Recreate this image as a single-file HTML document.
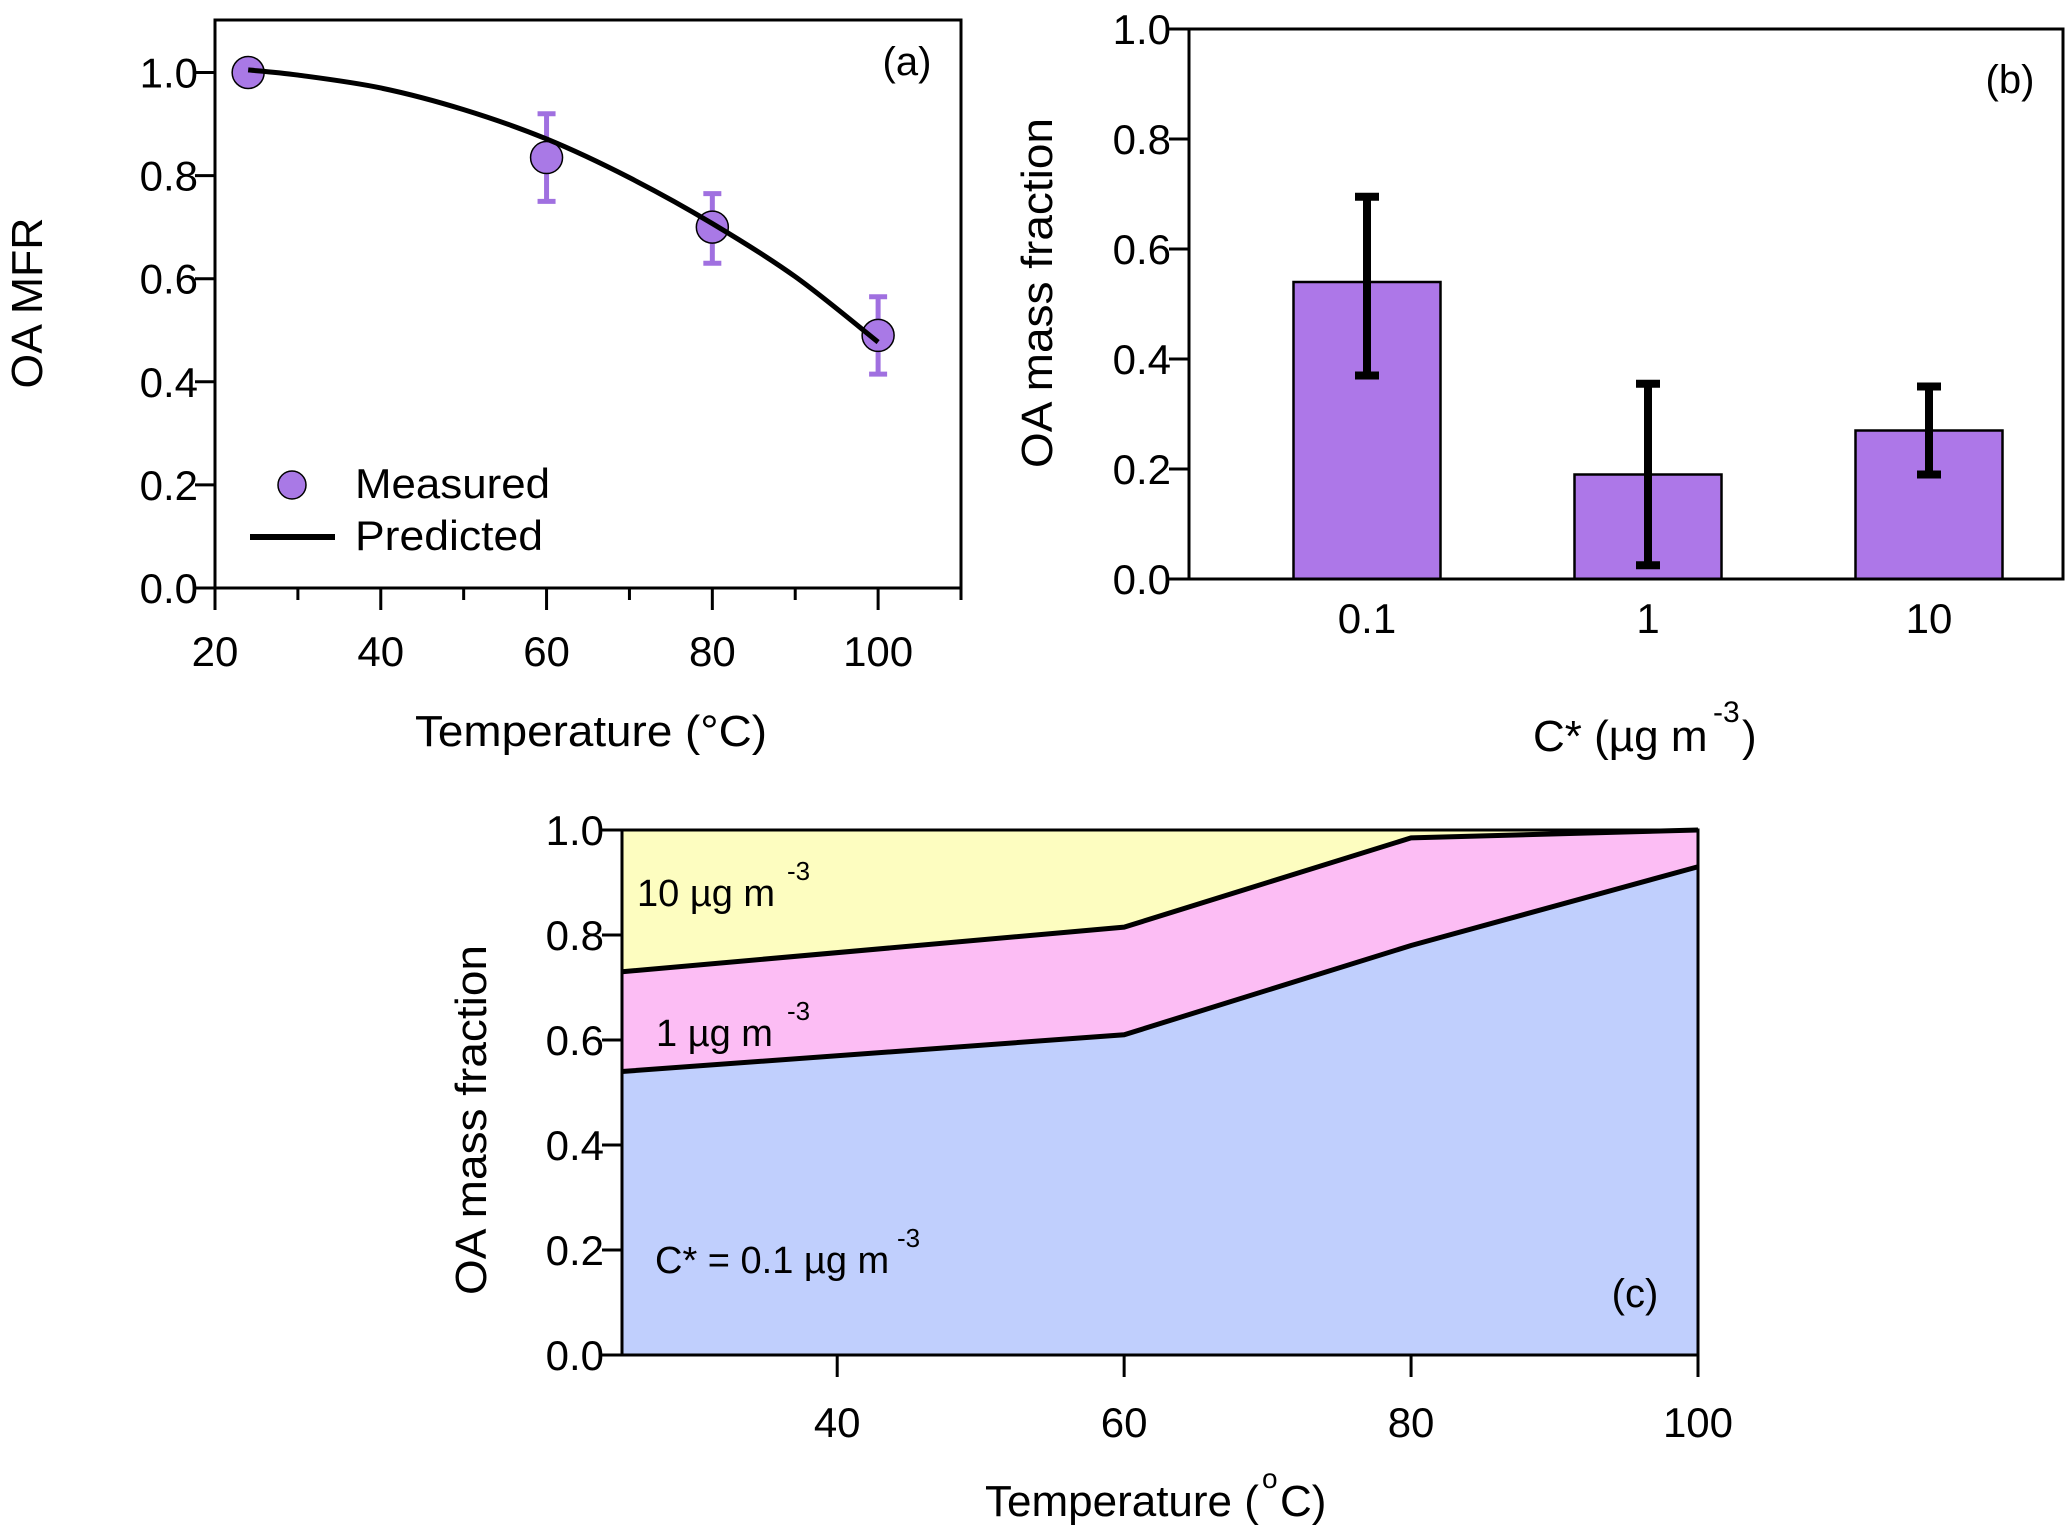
<!DOCTYPE html>
<html><head><meta charset="utf-8"><style>
html,body{margin:0;padding:0;background:#fff}
svg{display:block}
text{font-family:"Liberation Sans",Arial,sans-serif;fill:#000}
</style></head><body>
<svg id="fig" width="2067" height="1539" viewBox="0 0 2067 1539" xmlns="http://www.w3.org/2000/svg">
<g id="pa"></g>
<g id="pb"></g>
<g id="pc"></g>
</svg>
<script>
// Panel (a) data
const aTemps = [24, 60, 80, 100];
const aMeasured = [1.0, 0.835, 0.70, 0.49];
const aErrLow = [1.0, 0.75, 0.63, 0.415];
const aErrHigh = [1.0, 0.92, 0.765, 0.565];
const aCurveT = [24, 30, 40, 50, 60, 70, 80, 90, 100];
const aCurveY = [1.005, 0.995, 0.97, 0.928, 0.871, 0.796, 0.707, 0.604, 0.477];
const aXTicks = [20, 40, 60, 80, 100];
const aXMinor = [30, 50, 70, 90, 110];
const aYTicks = ["0.0", "0.2", "0.4", "0.6", "0.8", "1.0"];
// Panel (b) data
const bCats = ["0.1", "1", "10"];
const bValues = [0.54, 0.19, 0.27];
const bErrLow = [0.37, 0.025, 0.19];
const bErrHigh = [0.695, 0.355, 0.35];
const bYTicks = ["0.0", "0.2", "0.4", "0.6", "0.8", "1.0"];
// Panel (c) data
const cTemps = [25, 60, 80, 100];
const cLow = [0.54, 0.61, 0.78, 0.93];
const cMid = [0.73, 0.815, 0.985, 1.0];
const cTop = [1.0, 1.0, 1.0, 1.0];
const cXTicks = [40, 60, 80, 100];
const cYTicks = ["0.0", "0.2", "0.4", "0.6", "0.8", "1.0"];

const NS = "http://www.w3.org/2000/svg";
function mk(parent, tag, attrs, txt) {
  const e = document.createElementNS(NS, tag);
  for (const k in attrs) e.setAttribute(k, attrs[k]);
  if (txt !== undefined) e.textContent = txt;
  parent.appendChild(e);
  return e;
}

// ---------- Panel A ----------
(function(){
  const g = document.getElementById('pa');
  const L = 215, R = 961, T = 20, B = 588;
  const x = v => L + (v - 20) / 90 * (R - L);
  const y = v => B - v * (B - 72.5);
  let e = mk(g, 'rect', {x:L, y:T, width:R-L, height:B-T, fill:'none', stroke:'#000', 'stroke-width':3});
   
  aXTicks.forEach(t => {
    e = mk(g, 'line', {x1:x(t), x2:x(t), y1:B, y2:B+22, stroke:'#000', 'stroke-width':3});
     
    e = mk(g, 'text', {x:x(t), y:666, 'font-size':42, 'text-anchor':'middle'}, String(t));
     
  });
  aXMinor.forEach(t => {
    e = mk(g, 'line', {x1:x(t), x2:x(t), y1:B, y2:B+12, stroke:'#000', 'stroke-width':3});
     
  });
  aYTicks.forEach(s => {
    const v = parseFloat(s);
    e = mk(g, 'line', {x1:L-20, x2:L, y1:y(v), y2:y(v), stroke:'#000', 'stroke-width':3});
     
    e = mk(g, 'text', {x:198, y:y(v)+15, 'font-size':42, 'text-anchor':'end'}, s);
     
  });
  // smooth curve (Catmull-Rom)
  const P = aCurveT.map((t,i) => [x(t), y(aCurveY[i])]);
  let d = `M${P[0][0]} ${P[0][1]}`;
  for (let i = 0; i < P.length - 1; i++) {
    const p0 = P[Math.max(0,i-1)], p1 = P[i], p2 = P[i+1], p3 = P[Math.min(P.length-1,i+2)];
    const c1 = [p1[0] + (p2[0]-p0[0])/6, p1[1] + (p2[1]-p0[1])/6];
    const c2 = [p2[0] - (p3[0]-p1[0])/6, p2[1] - (p3[1]-p1[1])/6];
    d += ` C${c1[0]} ${c1[1]} ${c2[0]} ${c2[1]} ${p2[0]} ${p2[1]}`;
  }
  aTemps.forEach((t,i) => {
    if (aErrHigh[i] === aErrLow[i]) return;
    e = mk(g, 'path', {d:`M${x(t)} ${y(aErrLow[i])} V${y(aErrHigh[i])} M${x(t)-9} ${y(aErrLow[i])} H${x(t)+9} M${x(t)-9} ${y(aErrHigh[i])} H${x(t)+9}`, stroke:'#a070e0', 'stroke-width':5, fill:'none'});
     
  });
  aTemps.forEach((t,i) => {
    e = mk(g, 'circle', {cx:x(t), cy:y(aMeasured[i]), r:16, fill:'#a979e6', stroke:'#000', 'stroke-width':1.5});
     
  });
  e = mk(g, 'path', {d:d, stroke:'#000', 'stroke-width':5, fill:'none'});
   
  // legend
  e = mk(g, 'circle', {cx:292, cy:485, r:14, fill:'#a979e6', stroke:'#000', 'stroke-width':1.5});
   
  e = mk(g, 'text', {x:355, y:498, 'font-size':42, textLength:195, lengthAdjust:'spacingAndGlyphs'}, 'Measured');
   
  e = mk(g, 'line', {x1:250, x2:335, y1:537, y2:537, stroke:'#000', 'stroke-width':6});
   
  e = mk(g, 'text', {x:355, y:550, 'font-size':42, textLength:188, lengthAdjust:'spacingAndGlyphs'}, 'Predicted');
   
  e = mk(g, 'text', {x:907, y:75, 'font-size':40, 'text-anchor':'middle'}, '(a)');
   
  e = mk(g, 'text', {x:591, y:746, 'font-size':44, 'text-anchor':'middle', textLength:352, lengthAdjust:'spacingAndGlyphs'}, 'Temperature (°C)');
   
  e = mk(g, 'text', {x:0, y:0, 'font-size':44, 'text-anchor':'middle', transform:'translate(42 303) rotate(-90)', textLength:171, lengthAdjust:'spacingAndGlyphs'}, 'OA MFR');
   
})();

// ---------- Panel B ----------
(function(){
  const g = document.getElementById('pb');
  const L = 1189, R = 2063, T = 29, B = 579;
  const y = v => B - v * (B - T);
  const step = 281, first = 1367, bw = 147;
  const x = i => first + i * step;
  let e;
  bCats.forEach((c,i) => {
    e = mk(g, 'rect', {x:x(i)-bw/2, y:y(bValues[i]), width:bw, height:B-y(bValues[i]), fill:'#ad77e8', stroke:'#000', 'stroke-width':2.5});
     
    e = mk(g, 'path', {d:`M${x(i)} ${y(bErrLow[i])} V${y(bErrHigh[i])} M${x(i)-12} ${y(bErrLow[i])} H${x(i)+12} M${x(i)-12} ${y(bErrHigh[i])} H${x(i)+12}`, stroke:'#000', 'stroke-width':8, fill:'none'});
     
    e = mk(g, 'text', {x:x(i), y:633, 'font-size':42, 'text-anchor':'middle'}, c);
     
  });
  e = mk(g, 'rect', {x:L, y:T, width:R-L, height:B-T, fill:'none', stroke:'#000', 'stroke-width':3});
   
  bYTicks.forEach(s => {
    const v = parseFloat(s);
    e = mk(g, 'line', {x1:L-20, x2:L, y1:y(v), y2:y(v), stroke:'#000', 'stroke-width':3});
     
    e = mk(g, 'text', {x:1171, y:y(v)+15, 'font-size':42, 'text-anchor':'end'}, s);
     
  });
  e = mk(g, 'text', {x:2010, y:93, 'font-size':40, 'text-anchor':'middle'}, '(b)');
   
  e = mk(g, 'text', {x:1533, y:751, 'font-size':44}, 'C* (µg m');
   
  e = mk(g, 'text', {x:1713, y:722, 'font-size':30}, '-3');
   
  e = mk(g, 'text', {x:1742, y:751, 'font-size':44}, ')');
   
  e = mk(g, 'text', {x:0, y:0, 'font-size':44, 'text-anchor':'middle', transform:'translate(1052 293) rotate(-90)', textLength:350, lengthAdjust:'spacingAndGlyphs'}, 'OA mass fraction');
   
})();

// ---------- Panel C ----------
(function(){
  const g = document.getElementById('pc');
  const L = 622, R = 1698, T = 830, B = 1355;
  const x = v => L + (v - 25) / 75 * (R - L);
  const y = v => B - v * (B - T);
  const poly = (top, bot) => {
    const a = cTemps.map((t,i) => x(t) + ',' + y(top[i]));
    const b = cTemps.slice().reverse().map((t,i) => x(t) + ',' + y(bot[cTemps.length-1-i]));
    return a.concat(b).join(' ');
  };
  const zeros = cTemps.map(() => 0);
  let e = mk(g, 'polygon', {points:poly(cLow, zeros), fill:'#c0cffd'});
   
  e = mk(g, 'polygon', {points:poly(cMid, cLow), fill:'#fcbdf4'});
   
  e = mk(g, 'polygon', {points:poly(cTop, cMid), fill:'#fdfdc0'});
   
  [cLow, cMid].forEach(arr => {
    e = mk(g, 'polyline', {points:cTemps.map((t,i) => x(t) + ',' + y(arr[i])).join(' '), fill:'none', stroke:'#000', 'stroke-width':5});
     
  });
  e = mk(g, 'path', {d:`M${L} ${T} H${R} V${B} H${L} Z`, fill:'none', stroke:'#000', 'stroke-width':3});
   
  cXTicks.forEach(t => {
    e = mk(g, 'line', {x1:x(t), x2:x(t), y1:B, y2:B+22, stroke:'#000', 'stroke-width':3});
     
    e = mk(g, 'text', {x:x(t), y:1437, 'font-size':42, 'text-anchor':'middle'}, String(t));
     
  });
  cYTicks.forEach(s => {
    const v = parseFloat(s);
    e = mk(g, 'line', {x1:L-20, x2:L, y1:y(v), y2:y(v), stroke:'#000', 'stroke-width':3});
     
    e = mk(g, 'text', {x:604, y:y(v)+15, 'font-size':42, 'text-anchor':'end'}, s);
     
  });
  const lab = (tx, ty, main, supx, name) => {
    let t = mk(g, 'text', {x:tx, y:ty, 'font-size':38}, main);
     
    t = mk(g, 'text', {x:supx, y:ty-26, 'font-size':26}, '-3');
     
  };
  lab(637, 906, '10  µg m', 787, 'label-10');
  lab(656, 1046, '1  µg m', 787, 'label-1');
  lab(655, 1273, 'C* = 0.1 µg m', 897, 'label-0.1');
  e = mk(g, 'text', {x:1635, y:1307, 'font-size':40, 'text-anchor':'middle'}, '(c)');
   
  e = mk(g, 'text', {x:985, y:1516, 'font-size':44}, 'Temperature (');
   
  e = mk(g, 'text', {x:1262, y:1488, 'font-size':28}, 'o');
   
  e = mk(g, 'text', {x:1280, y:1516, 'font-size':44}, 'C)');
   
  e = mk(g, 'text', {x:0, y:0, 'font-size':44, 'text-anchor':'middle', transform:'translate(486 1120) rotate(-90)', textLength:350, lengthAdjust:'spacingAndGlyphs'}, 'OA mass fraction');
   
})();
</script>
</body></html>
